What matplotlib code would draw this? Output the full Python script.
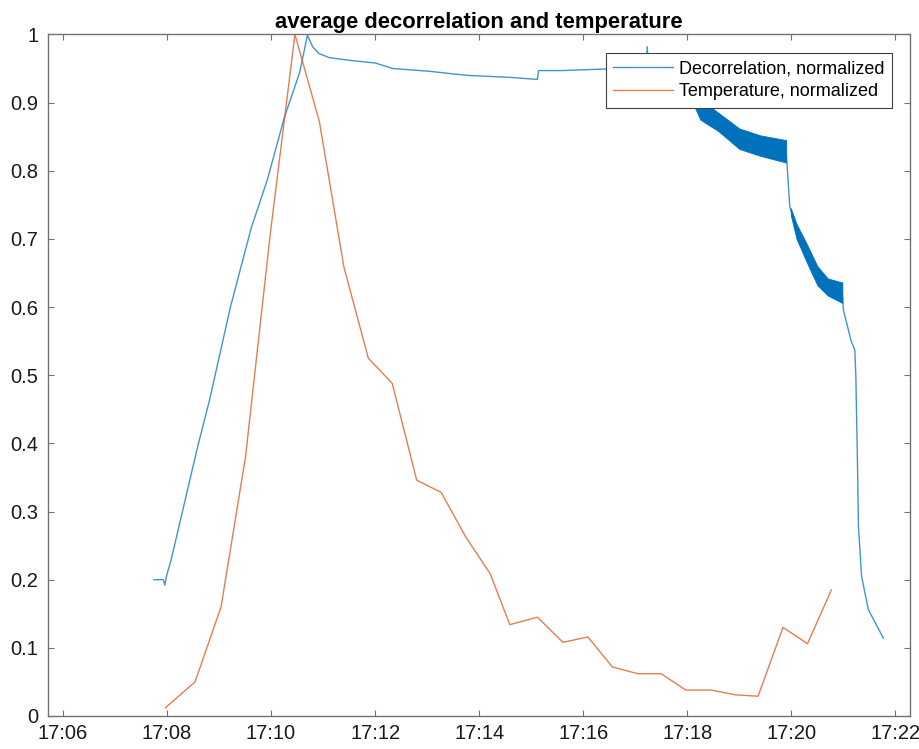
import numpy as np
import pandas as pd
import matplotlib
matplotlib.use("Agg")
import matplotlib.pyplot as plt
import matplotlib.dates as mdates

plt.rcParams["font.family"] = ["Liberation Sans", "DejaVu Sans"]

# === data (minutes after 17:00, normalized values) ===
temp_min = [7.97, 8.54, 9.04, 9.51, 9.99, 10.46, 10.93, 11.40, 11.87, 12.33,
            12.80, 13.27, 13.74, 14.21, 14.59, 15.12, 15.61, 16.09, 16.56,
            17.05, 17.50, 17.97, 18.46, 18.93, 19.36, 19.84, 20.31, 20.77]
temp_val = [0.012, 0.050, 0.160, 0.380, 0.710, 1.000, 0.872, 0.659, 0.525, 0.488,
            0.346, 0.328, 0.263, 0.209, 0.134, 0.145, 0.108, 0.116, 0.072,
            0.062, 0.062, 0.038, 0.038, 0.031, 0.029, 0.130, 0.106, 0.185]

dec_min = [7.75, 7.93, 7.96, 7.99, 8.08, 8.59, 8.82, 9.22, 9.62, 9.93, 10.26,
           10.55, 10.70, 10.80, 10.92, 11.12, 11.51, 12.01, 12.34, 13.04, 13.76,
           14.60, 15.12, 15.14, 15.60, 16.31, 16.90, 17.21, 17.23, 17.25, 17.50,
           17.85, 18.25, 18.60, 19.00, 19.40, 19.90, 19.92, 19.97, 20.10, 20.30,
           20.50, 20.70, 20.98, 21.00, 21.15, 21.22, 21.24, 21.27, 21.29, 21.35,
           21.48, 21.77]
dec_val = [0.200, 0.200, 0.192, 0.205, 0.229, 0.395, 0.464, 0.600, 0.716, 0.787,
           0.879, 0.944, 0.999, 0.982, 0.972, 0.966, 0.962, 0.958, 0.950, 0.946,
           0.940, 0.937, 0.934, 0.947, 0.947, 0.949, 0.950, 0.950, 0.982, 0.950,
           0.949, 0.944, 0.890, 0.871, 0.847, 0.837, 0.828, 0.807, 0.748, 0.710,
           0.678, 0.646, 0.630, 0.621, 0.596, 0.550, 0.537, 0.498, 0.376, 0.278,
           0.205, 0.156, 0.114]

# noisy band envelopes
band1_min = [17.90, 18.25, 18.60, 19.00, 19.40, 19.90]
band1_hi = [0.948, 0.905, 0.885, 0.862, 0.852, 0.845]
band1_lo = [0.935, 0.875, 0.858, 0.832, 0.822, 0.812]
band2_min = [19.99, 20.10, 20.30, 20.50, 20.70, 20.98]
band2_hi = [0.745, 0.722, 0.692, 0.660, 0.642, 0.636]
band2_lo = [0.735, 0.700, 0.665, 0.632, 0.617, 0.606]

base = pd.Timestamp("2021-01-01 17:00")


def to_time(minutes):
    return base + pd.to_timedelta(np.array(minutes), unit="min")


blue = "#0072BD"
orange = "#D95319"

fig = plt.figure(figsize=(9.2, 7.49), dpi=100)
ax = fig.add_axes([0.0525, 0.0441, 0.9366, 0.9099])

ax.plot(to_time(dec_min), dec_val, color=blue, lw=1.0, alpha=0.75,
        label="Decorrelation, normalized")
ax.fill_between(to_time(band1_min), band1_lo, band1_hi, color=blue, lw=0.6,
                edgecolor=blue)
ax.fill_between(to_time(band2_min), band2_lo, band2_hi, color=blue, lw=0.6,
                edgecolor=blue)
ax.plot(to_time(temp_min), temp_val, color=orange, lw=1.0, alpha=0.75,
        label="Temperature, normalized")

ax.set_xlim(to_time([5.72])[0], to_time([22.28])[0])
ax.set_ylim(0, 1)
ax.set_xticks(to_time(list(range(6, 23, 2))))
ax.xaxis.set_major_formatter(mdates.DateFormatter("%H:%M"))
ax.set_yticks(np.arange(0, 1.01, 0.1))
ax.set_yticklabels(["0", "0.1", "0.2", "0.3", "0.4", "0.5", "0.6", "0.7",
                    "0.8", "0.9", "1"])

ax.tick_params(direction="in", top=True, right=True, length=4, width=0.8,
               colors="0.45", labelcolor="0.1", labelsize=14.5)
ax.tick_params(axis="y", pad=7)
ax.tick_params(axis="x", pad=6)
for s in ax.spines.values():
    s.set_color("0.45")
    s.set_linewidth(1.0)

ax.set_title("average decorrelation and temperature", fontsize=15.8,
             fontweight="bold", pad=5)

leg = ax.legend(loc="upper right", bbox_to_anchor=(0.979, 0.973),
                borderaxespad=0, fancybox=False, framealpha=1, fontsize=13,
                handlelength=3.3, handletextpad=0.35, edgecolor="0.25",
                borderpad=0.4, labelspacing=0.35)
leg.get_frame().set_linewidth(0.8)

fig.savefig("out.png", dpi=100)
